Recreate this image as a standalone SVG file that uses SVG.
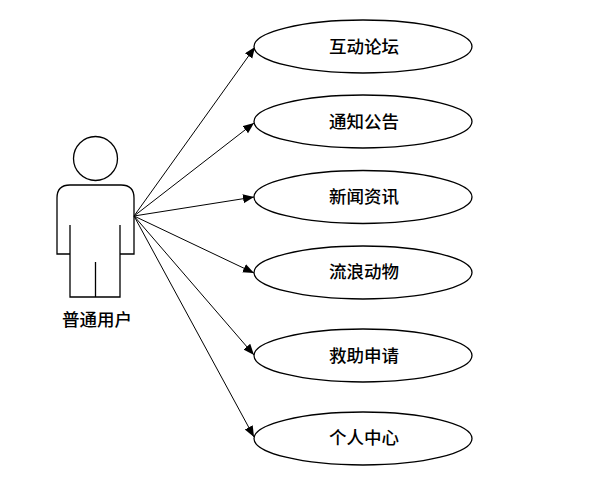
<svg xmlns="http://www.w3.org/2000/svg" width="606" height="495" viewBox="0 0 606 495">
<style>
.s{fill:none;stroke:#000;stroke-width:1.3}
.u{fill:#fff;stroke:#000;stroke-width:1.3}
.c{stroke:#000;stroke-width:1;fill:none;marker-end:url(#a)}
text{font-family:"Noto Sans CJK SC","Noto Sans CJK JP",sans-serif;font-size:17.5px;font-weight:500;text-anchor:middle;fill:#000}
</style>
<defs><marker id="a" markerUnits="userSpaceOnUse" markerWidth="12" markerHeight="10" refX="11" refY="4.5" orient="auto"><path d="M0 0L11 4.500L0 9Z" fill="#000"/></marker></defs>
<rect width="606" height="495" fill="#fff"/>
<g id="connectors">
<path class="c" d="M134 216L255 47"/>
<path class="c" d="M134 216L254 123"/>
<path class="c" d="M134 216L254 197"/>
<path class="c" d="M134 216L254 273"/>
<path class="c" d="M134 216L254 355"/>
<path class="c" d="M134 216L254 437"/>
</g>
<g id="actor">
<circle class="s" cx="95.500" cy="158.500" r="22"/>
<path class="s" d="M70 254H57V198Q57 185 70 185H121Q134 185 134 198V254H120"/>
<path class="s" d="M70 225V297H120V225M95.500 262V297"/>
<text x="97" y="326">普通用户</text>
</g>
<g id="n1"><ellipse class="u" cx="363" cy="46.500" rx="109" ry="26.500"/><text x="364" y="53">互动论坛</text></g>
<g id="n2"><ellipse class="u" cx="363" cy="121.500" rx="109" ry="26.500"/><text x="364" y="128">通知公告</text></g>
<g id="n3"><ellipse class="u" cx="363" cy="197" rx="109" ry="26.500"/><text x="364" y="203">新闻资讯</text></g>
<g id="n4"><ellipse class="u" cx="363" cy="272.500" rx="109" ry="26.500"/><text x="364" y="278">流浪动物</text></g>
<g id="n5"><ellipse class="u" cx="363" cy="355.500" rx="109" ry="26.500"/><text x="364" y="362">救助申请</text></g>
<g id="n6"><ellipse class="u" cx="363" cy="438.500" rx="109" ry="26.500"/><text x="364" y="444">个人中心</text></g>
</svg>
